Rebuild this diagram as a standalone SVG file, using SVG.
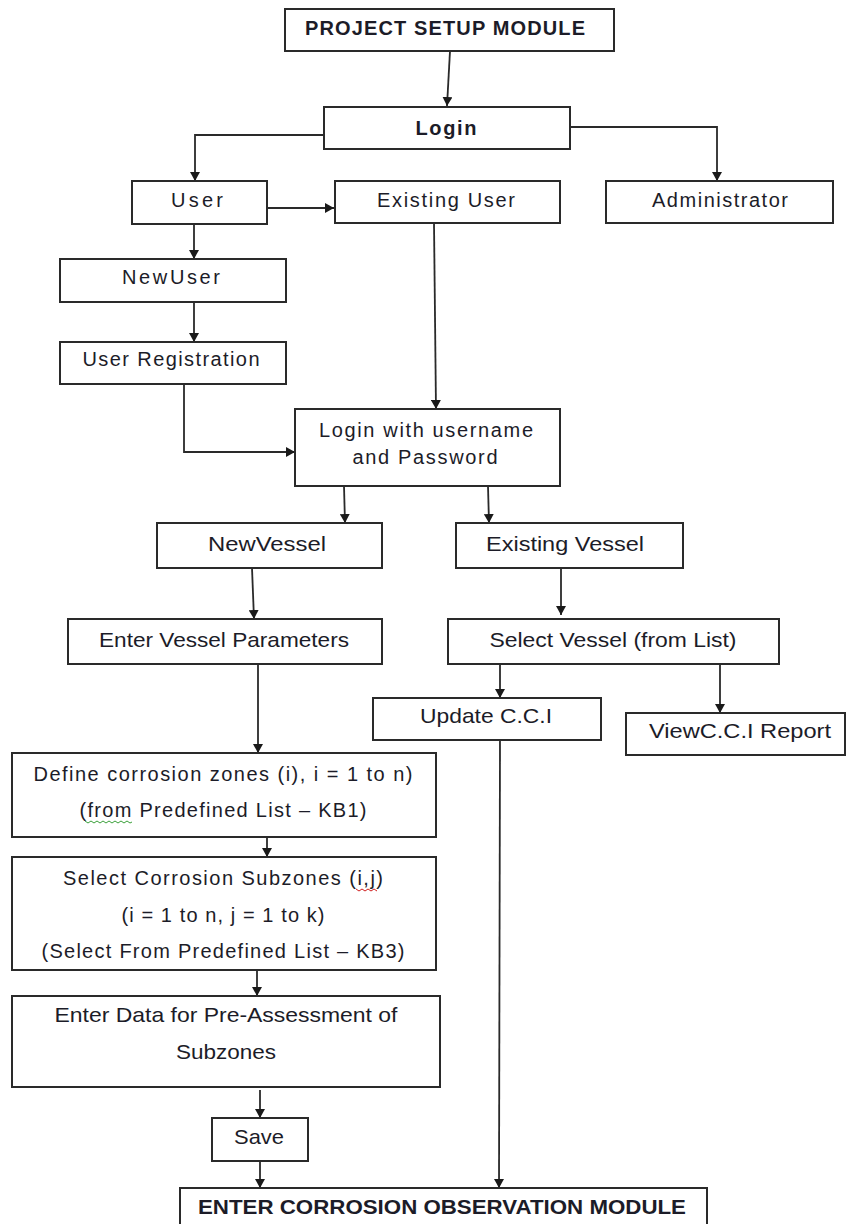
<svg xmlns="http://www.w3.org/2000/svg" width="847" height="1224" viewBox="0 0 847 1224">
<defs>
<marker id="ah" markerWidth="9" markerHeight="10" refX="9" refY="5" orient="auto" markerUnits="userSpaceOnUse">
<path d="M0,0 L9,5 L0,10 z" fill="#1a1a1a"/>
</marker>
<style>
.box{fill:#fff;stroke:#2a2a2a;stroke-width:2}
.t{font-family:"Liberation Sans",Arial,sans-serif;font-size:20px;fill:#1c1c28;text-anchor:middle}
.c{font-size:21px}
.b{font-weight:bold}
.ln{fill:none;stroke:#2a2a2a;stroke-width:1.8;marker-end:url(#ah)}
.wv{fill:none;stroke-width:1}
</style>
</defs>
<rect width="847" height="1224" fill="#fff"/>

<g id="connectors">
<path class="ln" d="M450,51 L447,106"/>
<path class="ln" d="M324,135 L195,135 L195,181"/>
<path class="ln" d="M570,127 L717,127 L717,181"/>
<path class="ln" d="M267,208 L334,208"/>
<path class="ln" d="M434,223 L436,409"/>
<path class="ln" d="M194,224 L194,259"/>
<path class="ln" d="M194,302 L194,342"/>
<path class="ln" d="M184,384 L184,452 L295,452"/>
<path class="ln" d="M344,486 L345,523"/>
<path class="ln" d="M488,486 L489,523"/>
<path class="ln" d="M252,568 L254,619"/>
<path class="ln" d="M561,568 L561,615"/>
<path class="ln" d="M258,664 L258,753"/>
<path class="ln" d="M500,664 L500,698"/>
<path class="ln" d="M720,664 L720,713"/>
<path class="ln" d="M500,740 L499,1188"/>
<path class="ln" d="M267,837 L267,857"/>
<path class="ln" d="M257,970 L257,996"/>
<path class="ln" d="M260,1090 L260,1118"/>
<path class="ln" d="M260,1161 L260,1188"/>
</g>

<g id="n-project-setup">
<rect class="box" x="285" y="9" width="329" height="42"/>
<text class="t b" x="445" y="35" textLength="280" lengthAdjust="spacing">PROJECT SETUP MODULE</text>
</g>
<g id="n-login">
<rect class="box" x="324" y="107" width="246" height="42"/>
<text class="t b" x="446" y="135" textLength="61" lengthAdjust="spacing">Login</text>
</g>
<g id="n-user">
<rect class="box" x="132" y="181" width="135" height="43"/>
<text class="t" x="197" y="207" textLength="52" lengthAdjust="spacing">User</text>
</g>
<g id="n-existing-user">
<rect class="box" x="335" y="181" width="225" height="42"/>
<text class="t" x="446" y="207" textLength="138" lengthAdjust="spacing">Existing User</text>
</g>
<g id="n-administrator">
<rect class="box" x="606" y="181" width="227" height="42"/>
<text class="t" x="720" y="207" textLength="136" lengthAdjust="spacing">Administrator</text>
</g>
<g id="n-new-user">
<rect class="box" x="60" y="259" width="226" height="43"/>
<text class="t" x="171" y="284" textLength="98" lengthAdjust="spacing">NewUser</text>
</g>
<g id="n-user-registration">
<rect class="box" x="60" y="342" width="226" height="42"/>
<text class="t" x="171" y="366" textLength="177" lengthAdjust="spacing">User Registration</text>
</g>
<g id="n-login-username">
<rect class="box" x="295" y="409" width="265" height="77"/>
<text class="t" x="426" y="437" textLength="214" lengthAdjust="spacing">Login with username</text>
<text class="t" x="425" y="464" textLength="145" lengthAdjust="spacing">and Password</text>
</g>
<g id="n-new-vessel">
<rect class="box" x="157" y="523" width="225" height="45"/>
<text class="t c" x="267" y="551" textLength="118" lengthAdjust="spacingAndGlyphs">NewVessel</text>
</g>
<g id="n-existing-vessel">
<rect class="box" x="456" y="523" width="227" height="45"/>
<text class="t c" x="565" y="551" textLength="158" lengthAdjust="spacingAndGlyphs">Existing Vessel</text>
</g>
<g id="n-enter-vessel-parameters">
<rect class="box" x="68" y="619" width="314" height="45"/>
<text class="t c" x="224" y="647" textLength="250" lengthAdjust="spacingAndGlyphs">Enter Vessel Parameters</text>
</g>
<g id="n-select-vessel">
<rect class="box" x="448" y="619" width="331" height="45"/>
<text class="t c" x="613" y="647" textLength="247" lengthAdjust="spacingAndGlyphs">Select Vessel (from List)</text>
</g>
<g id="n-update-cci">
<rect class="box" x="373" y="698" width="228" height="42"/>
<text class="t c" x="486" y="723" textLength="132" lengthAdjust="spacingAndGlyphs">Update C.C.I</text>
</g>
<g id="n-view-cci">
<rect class="box" x="626" y="713" width="219" height="42"/>
<text class="t c" x="740" y="738" textLength="182" lengthAdjust="spacingAndGlyphs">ViewC.C.I Report</text>
</g>
<g id="n-define-zones">
<rect class="box" x="12" y="753" width="424" height="84"/>
<text class="t" x="223" y="781" textLength="379" lengthAdjust="spacing">Define corrosion zones (i), i = 1 to n)</text>
<text class="t" x="223" y="817" textLength="287" lengthAdjust="spacing">(from Predefined List – KB1)</text>
<path class="wv" stroke="#3aa03a" d="M85,821 l3,2 l3,-2 l3,2 l3,-2 l3,2 l3,-2 l3,2 l3,-2 l3,2 l3,-2 l3,2 l3,-2 l3,2 l3,-2 l3,2 l2,-1"/>
</g>
<g id="n-select-subzones">
<rect class="box" x="12" y="857" width="424" height="113"/>
<text class="t" x="223" y="885" textLength="320" lengthAdjust="spacing">Select Corrosion Subzones (i,j)</text>
<path class="wv" stroke="#d02020" d="M356,889 l3,2 l3,-2 l3,2 l3,-2 l3,2 l3,-2 l3,2"/>
<text class="t" x="223" y="922" textLength="203" lengthAdjust="spacing">(i = 1 to n, j = 1 to k)</text>
<text class="t" x="223" y="958" textLength="363" lengthAdjust="spacing">(Select From Predefined List – KB3)</text>
</g>
<g id="n-enter-data">
<rect class="box" x="12" y="996" width="428" height="91"/>
<text class="t c" x="226" y="1022" textLength="343" lengthAdjust="spacingAndGlyphs">Enter Data for Pre-Assessment of</text>
<text class="t c" x="226" y="1059" textLength="100" lengthAdjust="spacingAndGlyphs">Subzones</text>
</g>
<g id="n-save">
<rect class="box" x="212" y="1118" width="96" height="43"/>
<text class="t c" x="259" y="1144" textLength="50" lengthAdjust="spacingAndGlyphs">Save</text>
</g>
<g id="n-corrosion-observation">
<rect class="box" x="180" y="1188" width="527" height="60"/>
<text class="t b c" x="442" y="1214" textLength="488" lengthAdjust="spacingAndGlyphs">ENTER CORROSION OBSERVATION MODULE</text>
</g>
</svg>
